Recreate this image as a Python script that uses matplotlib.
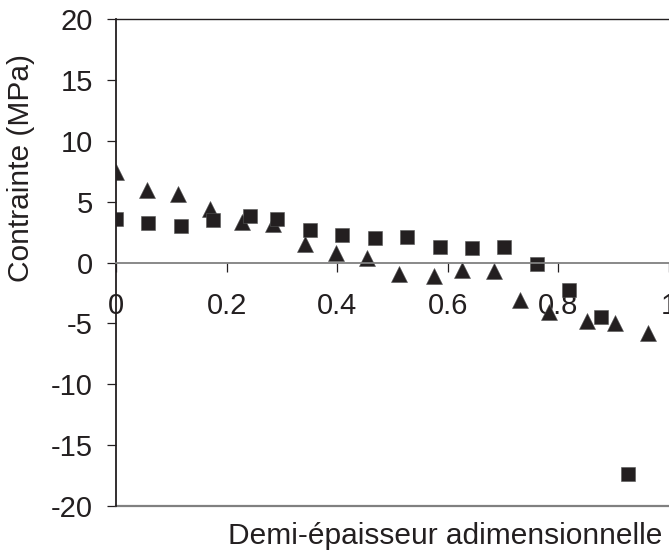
import matplotlib
matplotlib.use('Agg')
import matplotlib.pyplot as plt

# Demi-épaisseur adimensionnelle / contrainte (MPa)
x_carres = [0, 0.058, 0.117, 0.175, 0.242, 0.292, 0.350, 0.409, 0.468, 0.526,
            0.585, 0.643, 0.702, 0.761, 0.819, 0.877, 0.926]
y_carres = [3.54, 3.27, 2.97, 3.49, 3.78, 3.58, 2.65, 2.22, 2.05, 2.10,
            1.28, 1.15, 1.28, -0.11, -2.24, -4.51, -17.35]

x_triangles = [0, 0.056, 0.113, 0.170, 0.227, 0.284, 0.341, 0.398, 0.454, 0.512,
               0.575, 0.625, 0.683, 0.731, 0.783, 0.852, 0.903, 0.962]
y_triangles = [7.44, 5.98, 5.60, 4.37, 3.34, 3.16, 1.56, 0.74, 0.34, -0.92,
               -1.11, -0.63, -0.72, -3.06, -4.03, -4.78, -4.99, -5.80]

x_ticks = [0, 0.2, 0.4, 0.6, 0.8, 1]
x_labels = ['0', '0.2', '0.4', '0.6', '0.8', '1']
y_ticks = [-20, -15, -10, -5, 0, 5, 10, 15, 20]

plt.rcParams['font.family'] = ['Liberation Sans', 'DejaVu Sans']
plt.rcParams['axes.unicode_minus'] = False
noir = '#231f20'
gris = '#808080'
taille = 21

fig = plt.figure(figsize=(6.69, 5.53), dpi=100)
ax = fig.add_axes([116 / 669, 47 / 553, 553 / 669, 487 / 553])

ax.plot(x_triangles, y_triangles, linestyle='none', marker='^', markersize=11,
        color=noir, markeredgewidth=0.4, markeredgecolor='#555555')
ax.plot(x_carres, y_carres, linestyle='none', marker='s', markersize=10.5,
        color=noir, markeredgewidth=0.4, markeredgecolor='#555555')

ax.set_xlim(0, 1)
ax.set_ylim(-20, 20)

# axe des x a y = 0, lignes horizontales a -20 et 20
ax.spines['bottom'].set_position(('data', 0))
ax.spines['bottom'].set_color(gris)
ax.spines['bottom'].set_linewidth(1.3)
ax.spines['right'].set_visible(False)
ax.spines['top'].set_color(noir)
ax.spines['top'].set_linewidth(1.0)
ax.spines['left'].set_color(noir)
ax.spines['left'].set_linewidth(1.3)
ax.axhline(-20, color=gris, linewidth=1.6, clip_on=False)

ax.set_xticks(x_ticks)
ax.set_xticklabels(x_labels)
ax.set_yticks(y_ticks)
ax.tick_params(axis='x', direction='out', length=6.5, width=0.9, color=noir,
               pad=15, labelsize=taille, labelcolor=noir)
ax.tick_params(axis='y', direction='out', length=6.5, width=0.9, color=noir,
               pad=10, labelsize=taille, labelcolor=noir)

fig.text(21 / 669, 1 - 168 / 553, 'Contrainte (MPa)', rotation=90,
         ha='center', va='center', fontsize=21.5, color=noir)
fig.text(662 / 669, 9 / 553, 'Demi-épaisseur adimensionnelle',
         ha='right', va='baseline', fontsize=21.5, color=noir)

fig.savefig('out.png', dpi=100)
